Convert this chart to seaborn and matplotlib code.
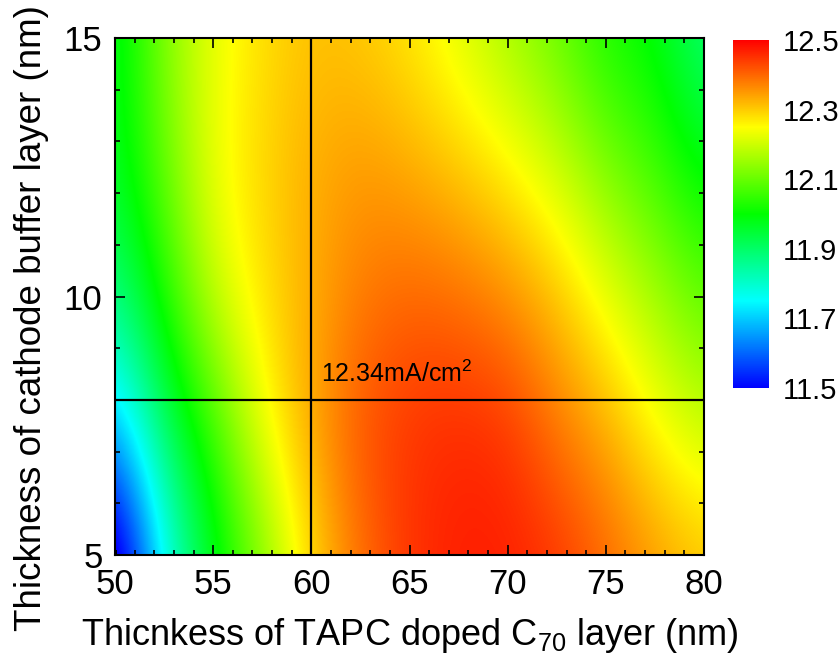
import numpy as np
import matplotlib
matplotlib.use("Agg")
import matplotlib.pyplot as plt
import seaborn as sns
from matplotlib.colors import LinearSegmentedColormap

# --- data ---
tapc_thickness = [50, 52.5, 55, 57.5, 60, 62.5, 65, 67.5, 70, 72.5, 75, 77.5, 80]   # x, nm
buffer_thickness = [5, 7.5, 10, 12.5, 15]                                              # y, nm
jsc_y5 = [11.38, 11.76, 11.97, 12.13, 12.29, 12.39, 12.45, 12.47, 12.47, 12.45, 12.40, 12.35, 12.31]
jsc_y7_5 = [11.67, 11.91, 12.06, 12.24, 12.34, 12.42, 12.45, 12.46, 12.45, 12.38, 12.33, 12.25, 12.19]
jsc_y10 = [11.87, 12.03, 12.20, 12.28, 12.33, 12.38, 12.40, 12.39, 12.36, 12.31, 12.23, 12.16, 12.09]
jsc_y12_5 = [11.96, 12.10, 12.24, 12.29, 12.33, 12.35, 12.33, 12.30, 12.26, 12.20, 12.12, 12.06, 11.98]
jsc_y15 = [11.96, 12.13, 12.23, 12.28, 12.31, 12.30, 12.27, 12.22, 12.16, 12.10, 12.02, 11.99, 11.88]
cbar_ticks = [11.5, 11.7, 11.9, 12.1, 12.3, 12.5]
opt_x, opt_y = 60, 8
opt_label = "12.34mA/cm$^{2}$"

sns.set_theme(style="ticks")
plt.rcParams["font.family"] = ["Liberation Sans", "DejaVu Sans"]
plt.rcParams["mathtext.default"] = "regular"
for key in ["text.color", "axes.labelcolor", "xtick.color", "ytick.color", "axes.edgecolor"]:
    plt.rcParams[key] = "black"

Z = np.array([jsc_y5, jsc_y7_5, jsc_y10, jsc_y12_5, jsc_y15])
dx = tapc_thickness[1] - tapc_thickness[0]
dy = buffer_thickness[1] - buffer_thickness[0]

cmap = LinearSegmentedColormap.from_list(
    "jetlike",
    [(0.0, "#0000ff"), (0.25, "#00ffff"), (0.5, "#00ff00"), (0.75, "#ffff00"), (1.0, "#ff0000")],
    N=512)
cmap.set_under("black")

fig = plt.figure(figsize=(8.4, 6.62), dpi=100)
ax = fig.add_axes([0.1369, 0.1616, 0.7012, 0.7810])
cax = fig.add_axes([0.8726, 0.4139, 0.0429, 0.5257])

im = ax.imshow(Z, origin="lower", aspect="auto", cmap=cmap, vmin=11.5, vmax=12.5,
               interpolation="bicubic",
               extent=[tapc_thickness[0] - dx / 2, tapc_thickness[-1] + dx / 2,
                       buffer_thickness[0] - dy / 2, buffer_thickness[-1] + dy / 2])
ax.set_xlim(tapc_thickness[0], tapc_thickness[-1])
ax.set_ylim(buffer_thickness[0], buffer_thickness[-1])

ax.axvline(opt_x, color="black", lw=1.6)
ax.axhline(opt_y, color="black", lw=1.6)
ax.text(opt_x + 0.5, opt_y + 0.25, opt_label, fontsize=18, color="black", ha="left", va="bottom")

ax.set_xticks([50, 55, 60, 65, 70, 75, 80])
ax.set_yticks([5, 10, 15])
ax.set_xticks(np.arange(50, 81, 1), minor=True)
ax.set_yticks(np.arange(5, 16, 1), minor=True)
ax.tick_params(which="both", direction="in", top=True, right=True, color="black", width=1.2)
ax.tick_params(which="major", length=7, labelsize=25)
ax.tick_params(which="minor", length=3.5)
ax.tick_params(axis="x", which="major", pad=9)
ax.tick_params(axis="y", which="major", pad=9)
for s in ax.spines.values():
    s.set_linewidth(1.5)
    s.set_color("black")

ax.set_xlabel("Thicnkess of TAPC doped C$_{70}$ layer (nm)", fontsize=26, labelpad=11)
ax.set_ylabel("Thickness of cathode buffer layer (nm)", fontsize=26.5)
ax.yaxis.set_label_coords(-0.112, 0.458)

cb = fig.colorbar(im, cax=cax, ticks=cbar_ticks)
cb.outline.set_visible(False)
cb.ax.tick_params(length=0, labelsize=21, pad=10)
cb.ax.set_yticklabels([f"{t:.1f}" for t in cbar_ticks])

fig.savefig("out.png", dpi=100)
